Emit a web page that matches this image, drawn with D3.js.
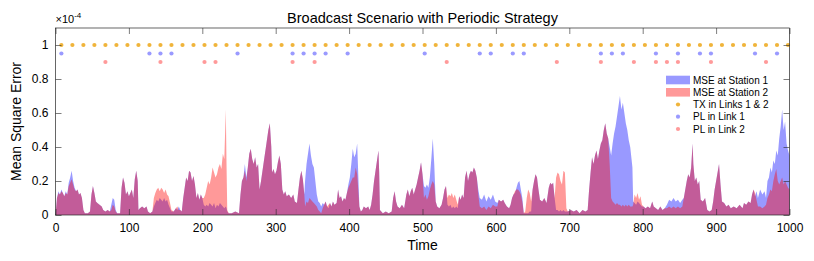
<!DOCTYPE html>
<html><head><meta charset="utf-8">
<script src="https://cdn.jsdelivr.net/npm/d3@7"></script>
<style>
html,body{margin:0;padding:0;background:#fff;}
svg{display:block;font-family:"Liberation Sans",Arial,Helvetica,sans-serif;}
</style></head><body>
<svg id="c" width="814" height="261"></svg>
<script>
// ---- data (MSE values in units of 1e-4) ----
const station1 = [[0,0],[2,.10],[4,.14],[6,.12],[8,.15],[10,.13],[12,.11],[14,.14],[16,.12],[18,.19],[20,.22],[22,.26],[24,.20],[26,.16],[28,.14],[30,.15],[32,.12],[34,.13],[36,.10],[38,.03],[40,.01],[44,.01],[47,.02],[49,.12],[51,.17],[53,.13],[55,.08],[57,.07],[60,.06],[63,.05],[65,.03],[68,.02],[71,.03],[74,.02],[76,.06],[78,.10],[80,.09],[82,.03],[84,.01],[88,.01],[90,.16],[92,.22],[94,.19],[96,.12],[98,.14],[100,.11],[102,.13],[104,.15],[106,.10],[108,.21],[110,.26],[112,.20],[113,.03],[115,.04],[118,.05],[121,.04],[124,.05],[126,.02],[129,.01],[132,.02],[134,.05],[136,.07],[138,.09],[140,.08],[142,.10],[144,.09],[146,.08],[148,.10],[150,.08],[152,.09],[154,.06],[156,.04],[158,.02],[161,.02],[164,.04],[166,.03],[168,.05],[170,.03],[172,.02],[174,.10],[176,.16],[178,.22],[180,.20],[182,.26],[184,.25],[186,.20],[188,.23],[190,.18],[192,.10],[194,.13],[196,.09],[198,.12],[200,.10],[202,.06],[204,.05],[206,.06],[208,.05],[210,.07],[212,.06],[214,.05],[216,.07],[218,.04],[220,.06],[222,.05],[224,.07],[226,.06],[228,.05],[230,.04],[232,.05],[233,.04],[234,.02],[236,.01],[240,.01],[245,.02],[250,.01],[252,.12],[254,.20],[256,.22],[258,.30],[260,.22],[262,.28],[264,.36],[266,.39],[268,.33],[270,.30],[272,.34],[274,.28],[276,.30],[278,.15],[280,.20],[282,.26],[284,.32],[286,.38],[288,.44],[290,.50],[292,.54],[294,.40],[295,.25],[297,.27],[299,.24],[301,.26],[303,.31],[305,.35],[307,.30],[309,.15],[311,.12],[313,.14],[315,.11],[318,.12],[321,.10],[324,.12],[326,.08],[329,.07],[331,.15],[333,.22],[335,.26],[337,.21],[339,.12],[340,.20],[342,.30],[344,.36],[346,.42],[348,.35],[350,.30],[352,.28],[354,.20],[356,.12],[358,.08],[360,.07],[362,.05],[364,.07],[366,.06],[368,.08],[370,.05],[372,.04],[374,.07],[376,.05],[378,.08],[380,.06],[383,.07],[385,.15],[387,.10],[389,.11],[391,.08],[393,.10],[395,.09],[397,.13],[399,.18],[401,.22],[403,.30],[405,.39],[407,.34],[409,.36],[411,.42],[412,.30],[414,.05],[416,.02],[418,.03],[420,.05],[423,.04],[426,.05],[428,.03],[430,.06],[432,.12],[434,.20],[436,.26],[438,.32],[440,.38],[441,.25],[442,.03],[446,.01],[450,.02],[454,.01],[458,.02],[460,.10],[462,.14],[464,.08],[466,.05],[469,.04],[472,.06],[475,.04],[478,.12],[480,.15],[482,.11],[484,.14],[486,.16],[488,.12],[490,.15],[492,.18],[494,.22],[496,.26],[498,.31],[500,.24],[502,.17],[504,.16],[506,.18],[508,.16],[510,.22],[512,.33],[514,.45],[516,.30],[518,.08],[520,.05],[523,.04],[526,.06],[528,.10],[530,.15],[532,.17],[534,.06],[536,.05],[538,.06],[540,.04],[542,.05],[544,.04],[546,.05],[548,.04],[550,.11],[552,.09],[554,.12],[556,.10],[558,.22],[560,.26],[562,.20],[564,.24],[566,.26],[568,.25],[570,.28],[572,.26],[574,.22],[576,.15],[578,.10],[581,.09],[584,.12],[587,.08],[590,.11],[593,.09],[596,.12],[599,.08],[602,.07],[604,.09],[607,.08],[610,.09],[612,.07],[615,.05],[618,.04],[620,.06],[622,.10],[624,.12],[626,.13],[628,.16],[630,.19],[632,.20],[634,.15],[636,.10],[638,.01],[640,.01],[642,.01],[644,.01],[646,.02],[648,.02],[650,.15],[652,.20],[654,.24],[656,.22],[658,.15],[660,.09],[663,.08],[666,.10],[669,.07],[672,.16],[674,.19],[676,.18],[678,.19],[680,.10],[682,.03],[684,.03],[686,.02],[688,.03],[690,.02],[692,.03],[694,.02],[696,.02],[698,.02],[702,.03],[706,.02],[710,.03],[714,.01],[718,.03],[722,.02],[725,.03],[727,.15],[729,.25],[731,.34],[733,.30],[735,.35],[737,.38],[739,.33],[741,.38],[743,.42],[745,.44],[747,.50],[749,.54],[751,.48],[753,.45],[755,.40],[757,.35],[759,.42],[761,.48],[763,.52],[765,.58],[767,.64],[769,.70],[771,.62],[773,.66],[775,.60],[777,.54],[779,.50],[781,.44],[783,.40],[785,.32],[786,.28],[787,.08],[789,.07],[791,.06],[793,.08],[795,.07],[797,.06],[799,.05],[801,.05],[804,.04],[807,.05],[810,.04],[813,.08],[815,.05],[818,.04],[821,.03],[824,.05],[827,.03],[830,.04],[833,.06],[836,.09],[839,.08],[842,.10],[845,.08],[848,.09],[851,.07],[854,.09],[856,.10],[858,.15],[860,.20],[862,.24],[864,.22],[866,.28],[868,.42],[869,.30],[871,.20],[873,.22],[875,.18],[877,.20],[879,.09],[882,.08],[885,.10],[888,.03],[891,.02],[894,.03],[896,.08],[898,.15],[900,.20],[902,.25],[904,.30],[906,.18],[908,.08],[911,.07],[914,.05],[917,.06],[920,.04],[924,.05],[928,.04],[932,.06],[936,.04],[938,.07],[941,.06],[944,.08],[947,.07],[949,.12],[951,.15],[953,.11],[955,.14],[957,.10],[960,.15],[963,.12],[966,.14],[968,.10],[970,.20],[972,.22],[974,.28],[976,.25],[978,.32],[980,.30],[982,.38],[984,.35],[986,.45],[988,.52],[990,.62],[992,.50],[994,.55],[996,.42],[998,.38],[1000,.35]];

const station2 = [[0,0],[2,.10],[4,.13],[6,.12],[8,.14],[10,.13],[12,.11],[14,.13],[16,.12],[18,.17],[20,.19],[22,.21],[24,.18],[26,.15],[28,.14],[30,.15],[32,.12],[34,.13],[36,.10],[38,.03],[40,.01],[44,.01],[47,.02],[49,.12],[51,.17],[53,.13],[55,.08],[57,.07],[60,.06],[63,.05],[65,.03],[68,.02],[71,.03],[74,.02],[76,.03],[78,.06],[80,.05],[82,.02],[84,.01],[88,.01],[90,.16],[92,.22],[94,.19],[96,.12],[98,.14],[100,.11],[102,.13],[104,.15],[106,.10],[108,.21],[110,.26],[112,.20],[113,.03],[115,.04],[118,.05],[121,.04],[124,.05],[126,.02],[129,.01],[132,.02],[134,.10],[136,.13],[138,.15],[140,.16],[142,.14],[144,.16],[146,.15],[148,.13],[150,.15],[152,.12],[154,.11],[156,.07],[158,.03],[161,.02],[164,.04],[166,.05],[168,.03],[170,.03],[172,.02],[174,.10],[176,.16],[178,.22],[180,.20],[182,.26],[184,.25],[186,.20],[188,.23],[190,.18],[192,.10],[194,.13],[196,.09],[198,.12],[200,.10],[202,.10],[204,.12],[206,.16],[208,.20],[210,.18],[212,.22],[214,.28],[216,.25],[218,.22],[220,.24],[222,.28],[224,.30],[226,.27],[228,.36],[230,.33],[232,.62],[233,.30],[234,.03],[236,.01],[240,.01],[245,.02],[250,.01],[252,.12],[254,.20],[256,.22],[258,.26],[260,.20],[262,.28],[264,.36],[266,.39],[268,.33],[270,.30],[272,.34],[274,.28],[276,.30],[278,.15],[280,.20],[282,.26],[284,.32],[286,.38],[288,.44],[290,.50],[292,.54],[294,.40],[295,.25],[297,.27],[299,.24],[301,.26],[303,.31],[305,.35],[307,.30],[309,.15],[311,.12],[313,.14],[315,.11],[318,.12],[321,.10],[324,.12],[326,.08],[329,.07],[331,.15],[333,.22],[335,.26],[337,.21],[339,.12],[340,.05],[342,.08],[344,.07],[346,.10],[348,.09],[350,.08],[352,.07],[354,.06],[356,.05],[358,.03],[360,.02],[362,.01],[364,.04],[366,.06],[368,.08],[370,.05],[372,.06],[374,.07],[376,.05],[378,.08],[380,.06],[383,.07],[385,.15],[387,.10],[389,.11],[391,.08],[393,.10],[395,.09],[397,.13],[399,.16],[401,.18],[403,.20],[405,.22],[407,.22],[409,.28],[411,.24],[412,.18],[414,.05],[416,.02],[418,.03],[420,.05],[423,.04],[426,.05],[428,.03],[430,.06],[432,.12],[434,.20],[436,.26],[438,.32],[440,.38],[441,.25],[442,.03],[446,.01],[450,.02],[454,.01],[458,.02],[460,.10],[462,.14],[464,.08],[466,.05],[469,.04],[472,.06],[475,.04],[478,.12],[480,.15],[482,.11],[484,.14],[486,.16],[488,.12],[490,.15],[492,.18],[494,.22],[496,.26],[498,.31],[500,.24],[502,.10],[504,.12],[506,.09],[508,.11],[510,.15],[512,.18],[514,.20],[516,.18],[518,.08],[520,.05],[523,.04],[526,.06],[528,.10],[530,.15],[532,.17],[534,.10],[536,.12],[538,.11],[540,.13],[542,.10],[544,.12],[546,.09],[548,.06],[550,.11],[552,.09],[554,.12],[556,.10],[558,.22],[560,.26],[562,.20],[564,.24],[566,.26],[568,.25],[570,.28],[572,.26],[574,.22],[576,.12],[578,.05],[581,.04],[584,.05],[587,.03],[590,.05],[593,.04],[596,.06],[599,.05],[602,.05],[604,.09],[607,.08],[610,.09],[612,.07],[615,.05],[618,.04],[620,.06],[622,.10],[624,.12],[626,.14],[628,.15],[630,.15],[632,.14],[634,.12],[636,.08],[638,.01],[640,.02],[642,.10],[644,.15],[646,.13],[648,.08],[650,.15],[652,.20],[654,.24],[656,.22],[658,.15],[660,.09],[663,.08],[666,.10],[669,.07],[672,.16],[674,.19],[676,.18],[678,.19],[680,.10],[682,.22],[684,.25],[686,.24],[688,.20],[690,.18],[692,.26],[694,.25],[696,.04],[698,.02],[702,.03],[706,.02],[710,.03],[714,.01],[718,.03],[722,.02],[725,.03],[727,.15],[729,.25],[731,.34],[733,.30],[735,.35],[737,.38],[739,.33],[741,.38],[743,.42],[745,.44],[747,.50],[749,.54],[751,.48],[753,.45],[755,.30],[757,.10],[759,.08],[761,.07],[763,.06],[765,.07],[767,.06],[769,.06],[771,.05],[773,.06],[775,.05],[777,.06],[779,.05],[781,.06],[783,.05],[785,.05],[786,.05],[787,.06],[789,.12],[791,.10],[793,.13],[795,.09],[797,.11],[799,.06],[801,.05],[804,.04],[807,.05],[810,.04],[813,.08],[815,.05],[818,.04],[821,.03],[824,.05],[827,.03],[830,.04],[833,.04],[836,.05],[839,.04],[842,.05],[845,.04],[848,.05],[851,.04],[854,.05],[856,.10],[858,.15],[860,.20],[862,.24],[864,.22],[866,.28],[868,.42],[869,.30],[871,.20],[873,.22],[875,.18],[877,.20],[879,.09],[882,.08],[885,.10],[888,.03],[891,.02],[894,.03],[896,.08],[898,.15],[900,.20],[902,.25],[904,.30],[906,.18],[908,.08],[911,.07],[914,.05],[917,.06],[920,.04],[924,.05],[928,.04],[932,.06],[936,.04],[938,.07],[941,.06],[944,.08],[947,.07],[949,.12],[951,.15],[953,.13],[955,.09],[957,.05],[960,.05],[963,.04],[966,.05],[968,.06],[970,.10],[972,.12],[974,.15],[976,.14],[978,.20],[980,.24],[982,.27],[984,.20],[986,.18],[988,.20],[990,.22],[992,.18],[994,.20],[996,.18],[998,.16],[1000,.15]];

const txTimes  = [8,23,38,53,68,83,98,113,128,143,158,173,188,203,218,233,248,263,278,293,308,323,338,353,368,383,398,413,428,443,458,473,488,503,518,533,548,563,578,593,608,623,638,653,668,683,698,713,728,743,758,773,788,803,818,833,848,863,878,893,908,923,938,953,968,983,998];
const pl1Times = [8,128,143,158,248,323,338,353,368,398,503,578,593,623,638,743,758,773,818,848,878,893,953,983];
const pl2Times = [68,143,203,218,323,353,533,683,743,788,818,833,848,893,968];
const txLevel = 1, pl1Level = 0.95, pl2Level = 0.9;

const xTicks = [0,100,200,300,400,500,600,700,800,900,1000];
const yTicks = [0,0.2,0.4,0.6,0.8,1];
const yTickLabels = ["0","0.2","0.4","0.6","0.8","1"];
const legendLabels = ["MSE at Station 1","MSE at Station 2","TX in Links 1 & 2","PL in Link 1","PL in Link 2"];
const titleText = "Broadcast Scenario with Periodic Strategy";

// ---- drawing ----
const C1 = "rgba(0,0,255,0.4)", C2 = "rgba(255,0,0,0.4)";
const D_TX = "#f0b43a", D_P1 = "#9a9aff", D_P2 = "#ff9a9a";
const AX = "#262626";

const svg = d3.select("#c");
const L = 55.5, R = 789.5, T = 28, B = 215;
const x = d3.scaleLinear().domain([0,1000]).range([L,R]);
const y = d3.scaleLinear().domain([0,1.1]).range([B,T]);

const area = d3.area().x(d => x(d[0])).y0(y(0)).y1(d => y(d[1]));
svg.append("path").datum(station1).attr("d", area).attr("fill", C1);
svg.append("path").datum(station2).attr("d", area).attr("fill", C2);

function dots(times, level, color){
  svg.append("g").selectAll("circle").data(times).join("circle")
    .attr("cx", d => x(d)).attr("cy", y(level)).attr("r", 2.1).attr("fill", color);
}
dots(txTimes, txLevel, D_TX);
dots(pl1Times, pl1Level, D_P1);
dots(pl2Times, pl2Level, D_P2);

// axes
const fs = 12;
const gb = svg.append("g").attr("transform", `translate(0,${B})`)
  .call(d3.axisBottom(x).tickValues(xTicks).tickSizeInner(-6).tickSizeOuter(0).tickPadding(8).tickFormat(d3.format("d")));
const gt = svg.append("g").attr("transform", `translate(0,${T})`)
  .call(d3.axisTop(x).tickValues(xTicks).tickSizeInner(-6).tickSizeOuter(0).tickFormat(""));
const gl = svg.append("g").attr("transform", `translate(${L},0)`)
  .call(d3.axisLeft(y).tickValues(yTicks).tickSizeInner(-6).tickSizeOuter(0).tickPadding(7).tickFormat((d,i) => yTickLabels[i]));
const gr = svg.append("g").attr("transform", `translate(${R},0)`)
  .call(d3.axisRight(y).tickValues(yTicks).tickSizeInner(-6).tickSizeOuter(0).tickFormat(""));
[gb,gt,gl,gr].forEach(g => {
  g.select(".domain").remove();
  g.selectAll("line").attr("stroke", AX).attr("stroke-width", 0.6);
  g.selectAll("text").attr("fill", "#000").style("font-size", fs + "px")
    .style("font-family", '"Liberation Sans",Arial,sans-serif');
});
svg.append("rect").attr("x", L).attr("y", T).attr("width", R-L).attr("height", B-T)
  .attr("fill", "none").attr("stroke", AX).attr("stroke-width", 0.7);

// exponent label
const ex = svg.append("text").attr("x", L).attr("y", 23).style("font-size", "11px").attr("fill", "#000");
ex.append("tspan").text("×10");
ex.append("tspan").attr("dy", -5).style("font-size", "8px").text("-4");

// title
svg.append("text").attr("x", (L+R)/2).attr("y", 23).attr("text-anchor", "middle")
  .style("font-size", "14.5px").attr("fill", "#000").text(titleText);
// axis labels
svg.append("text").attr("x", (L+R)/2).attr("y", 250).attr("text-anchor", "middle")
  .style("font-size", "14px").attr("fill", "#000").text("Time");
svg.append("text").attr("transform", `translate(21,${(T+B)/2}) rotate(-90)`).attr("text-anchor", "middle")
  .style("font-size", "14px").attr("fill", "#000").text("Mean Square Error");

// legend
const lg = svg.append("g");
const rowY = [80, 92.3, 104.5, 116.7, 129];
const kinds = [["patch",C1],["patch",C2],["dot",D_TX],["dot",D_P1],["dot",D_P2]];
legendLabels.forEach((lab,i) => {
  const k = kinds[i];
  if (k[0] === "patch") {
    lg.append("rect").attr("x", 666).attr("y", rowY[i]-4.3).attr("width", 24).attr("height", 8.6).attr("fill", k[1]);
  } else {
    lg.append("circle").attr("cx", 678).attr("cy", rowY[i]).attr("r", 2.1).attr("fill", k[1]);
  }
  lg.append("text").attr("x", 693).attr("y", rowY[i]).attr("dy", "0.36em")
    .style("font-size", "10px").attr("fill", "#000").text(lab);
});
</script>
</body></html>
